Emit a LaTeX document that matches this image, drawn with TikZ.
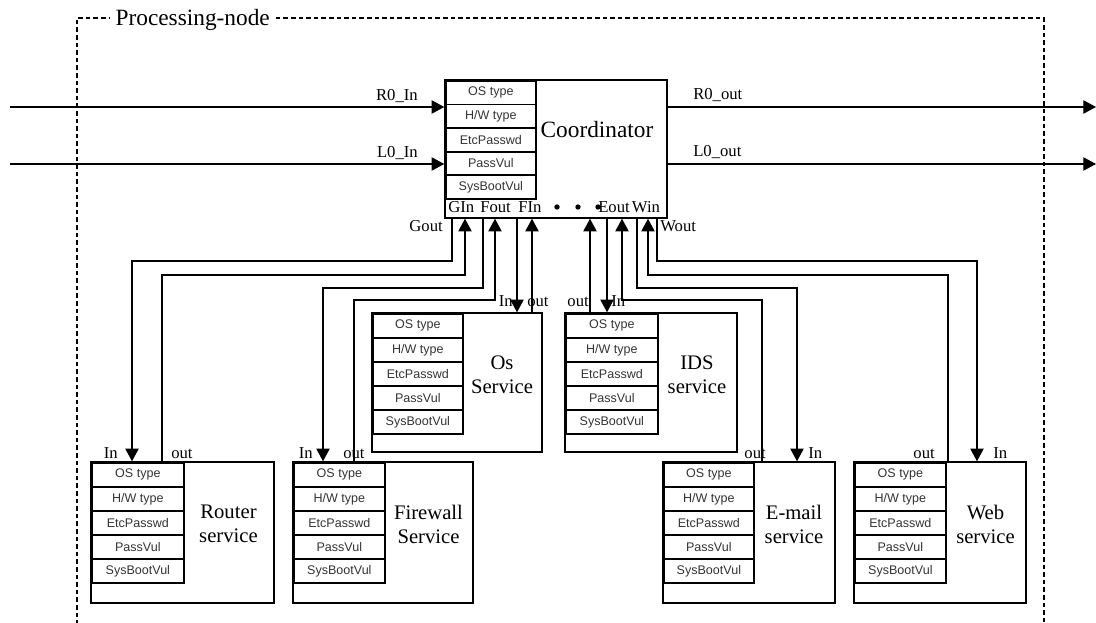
\documentclass[tikz,border=0pt]{standalone}
\usepackage{fontspec}
\setmainfont{Liberation Serif}
\newfontfamily\tabfont{Liberation Sans}
\usetikzlibrary{arrows.meta,fit}

\tikzset{
  wire/.style={line width=0.9pt},
  arr/.style={wire,-{Triangle[length=9.5pt,width=10pt]}},
  outerbox/.style={draw,line width=1.1pt,inner sep=0pt},
  rowcell/.style={draw,line width=1.3pt,inner sep=0pt,
    font=\tabfont\fontsize{9.4}{10}\selectfont,text=black!80},
  portlbl/.style={font=\fontsize{12.5}{14}\selectfont,inner sep=0pt},
  svclbl/.style={font=\fontsize{15.5}{18}\selectfont,align=center,inner sep=0pt},
  framedash/.style={dash pattern=on 3.5pt off 2.2pt,line width=1.1pt},
  dotmark/.style={fill=black,draw=none}
}

% five attribute rows: prefix, left, top, right, row height
\newcommand\attrtable[5]{%
  \foreach \t [count=\i] in {OS type,H/W type,EtcPasswd,PassVul,SysBootVul}{
    \node[rowcell,anchor=north west,minimum width={(#4-#2)*0.75pt},
          minimum height={#5*0.75pt}] (#1-\i) at (#2,{#3+(\i-1)*#5}) {\t};
  }%
}
% service box: name, left, top, right, bottom, table right, label
\newcommand\svcbox[7]{%
  \node[outerbox,fit={(#2,#3) (#4,#5)}] (#1) {};
  \attrtable{#1}{#2}{#3}{#6}{24}
  \node[svclbl] (#1-name) at ({(#6+#4)/2},{#3+62}) {#7};
}

\begin{document}
\begin{tikzpicture}[x=0.75pt,y=-0.75pt]
\useasboundingbox (0,0) rectangle (1096,623);

% processing-node frame
\draw[framedash] (77,640) -- (77,18) -- (1044,18) -- (1044,640);
\node[fill=white,anchor=west,inner xsep=4pt,inner ysep=1pt,
      font=\fontsize{17.5}{20}\selectfont] (title) at (110,20) {Processing-node};

% coordinator
\node[outerbox,fit={(445,80) (667,218)}] (coord) {};
\attrtable{coord}{445}{80}{535}{23.6}
\node[font=\fontsize{17.5}{20}\selectfont,inner sep=0pt] (coordname) at (597,130) {Coordinator};
\node[portlbl,anchor=base west] (pGIn)  at (448,213) {GIn};
\node[portlbl,anchor=base west] (pFout) at (480,213) {Fout};
\node[portlbl,anchor=base] (pFIn)  at (530,213) {FIn};
\node[portlbl,anchor=base] (pEout) at (614,213) {Eout};
\node[portlbl,anchor=base] (pWin)  at (646,213) {Win};
\fill[dotmark] (557,207) circle (2.7);
\fill[dotmark] (578,207) circle (2.7);
\fill[dotmark] (598,207) circle (2.7);

% services
\svcbox{router}{91}{462}{274}{603}{183}{Router\\service}
\svcbox{firewall}{293}{462}{473}{603}{384}{Firewall\\Service}
\svcbox{os}{372}{313}{542}{452}{462}{Os\\Service}
\svcbox{ids}{565}{313}{737}{452}{657}{IDS\\service}
\svcbox{email}{663}{462}{835}{603}{753}{E-mail\\service}
\svcbox{web}{854}{462}{1026}{603}{945}{Web\\service}

% ring inputs and outputs
\coordinate (r0src) at (10,107);
\coordinate (l0src) at (10,164);
\coordinate (r0dst) at (1096,107);
\coordinate (l0dst) at (1096,164);
\draw[arr] (r0src) -- (coord.west |- r0src);
\draw[arr] (l0src) -- (coord.west |- l0src);
\draw[arr] (coord.east |- r0dst) -- (r0dst);
\draw[arr] (coord.east |- l0dst) -- (l0dst);
\node[portlbl,anchor=base east] (lR0in)  at (418,101) {R0\_In};
\node[portlbl,anchor=base east] (lL0in)  at (418,158) {L0\_In};
\node[portlbl,anchor=base west] (lR0out) at (693,100) {R0\_out};
\node[portlbl,anchor=base west] (lL0out) at (693,157) {L0\_out};

% router links
\coordinate (gA) at (452,261);  \coordinate (gB) at (132,261);
\draw[arr] (coord.south -| gA) -- (gA) -- (gB) -- (router.north -| gB);
\coordinate (giA) at (465,275); \coordinate (giB) at (162,275);
\draw[arr] (router.north -| giB) -- (giB) -- (giA) -- (coord.south -| giA);
% firewall links
\coordinate (fA) at (483,288);  \coordinate (fB) at (323,288);
\draw[arr] (coord.south -| fA) -- (fA) -- (fB) -- (firewall.north -| fB);
\coordinate (fiA) at (495,300); \coordinate (fiB) at (354,300);
\draw[arr] (firewall.north -| fiB) -- (fiB) -- (fiA) -- (coord.south -| fiA);
% os links
\coordinate (oIn) at (517,300); \coordinate (oOut) at (532,300);
\draw[arr] (coord.south -| oIn) -- (os.north -| oIn);
\draw[arr] (os.north -| oOut) -- (coord.south -| oOut);
% ids links
\coordinate (iOut) at (590,300); \coordinate (iIn) at (607,300);
\draw[arr] (ids.north -| iOut) -- (coord.south -| iOut);
\draw[arr] (coord.south -| iIn) -- (ids.north -| iIn);
% e-mail links
\coordinate (eoA) at (622,300); \coordinate (eoB) at (762,300);
\draw[arr] (email.north -| eoB) -- (eoB) -- (eoA) -- (coord.south -| eoA);
\coordinate (eiA) at (637,288); \coordinate (eiB) at (797,288);
\draw[arr] (coord.south -| eiA) -- (eiA) -- (eiB) -- (email.north -| eiB);
% web links
\coordinate (woA) at (648,275); \coordinate (woB) at (948,275);
\draw[arr] (web.north -| woB) -- (woB) -- (woA) -- (coord.south -| woA);
\coordinate (wiA) at (657,261); \coordinate (wiB) at (977,261);
\draw[arr] (coord.south -| wiA) -- (wiA) -- (wiB) -- (web.north -| wiB);

% link labels
\node[portlbl,anchor=base east] (lGout) at (443,232) {Gout};
\node[portlbl,anchor=base west] (lWout) at (660,232) {Wout};
\node[portlbl,anchor=base east] (rIn)  at (118,459) {In};
\node[portlbl,anchor=base west] (rOut) at (171,459) {out};
\node[portlbl,anchor=base east] (fIn)  at (313,459) {In};
\node[portlbl,anchor=base west] (fOut) at (343,459) {out};
\node[portlbl,anchor=base east] (osIn)  at (513,307) {In};
\node[portlbl,anchor=base west] (osOut) at (527,307) {out};
\node[portlbl,anchor=base east] (idsOut) at (589,307) {out};
\node[portlbl,anchor=base west] (idsIn)  at (611,307) {In};
\node[portlbl,anchor=base east] (emOut) at (766,459) {out};
\node[portlbl,anchor=base west] (emIn)  at (808,459) {In};
\node[portlbl,anchor=base east] (wbOut) at (935,459) {out};
\node[portlbl,anchor=base west] (wbIn)  at (993,459) {In};
\end{tikzpicture}
\end{document}
